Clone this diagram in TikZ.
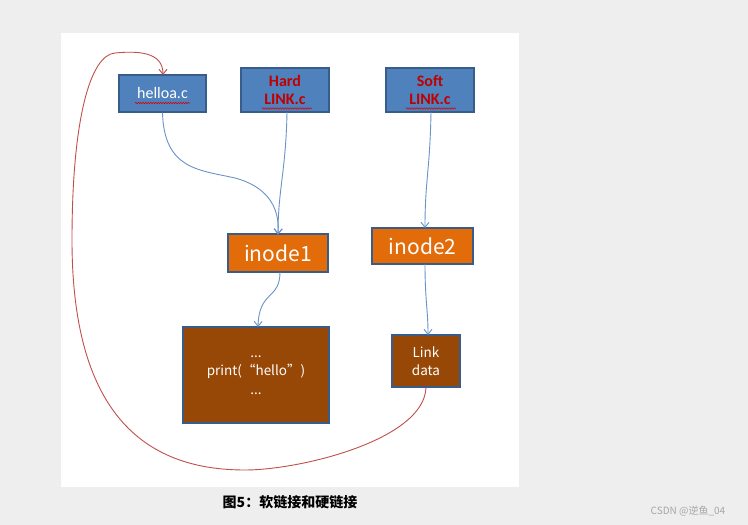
\documentclass[tikz,border=0pt]{standalone}
\usepackage{fontspec}
\setmainfont{Carlito}
\newfontfamily\cjk{Noto Sans CJK SC}
\usetikzlibrary{arrows.meta,decorations.pathmorphing}
\definecolor{bgray}{HTML}{EEEEEE}
\definecolor{bluefill}{HTML}{4F81BD}
\definecolor{blueedge}{HTML}{385D8A}
\definecolor{orangefill}{HTML}{E36C0A}
\definecolor{brownfill}{HTML}{974806}
\definecolor{darkred}{HTML}{C00000}
\definecolor{redline}{HTML}{C0504D}
\definecolor{linkblue}{HTML}{6A93C8}
\tikzset{
  filebox/.style={draw=blueedge,line width=1.2pt,fill=bluefill,inner sep=0pt,align=center},
  inodebox/.style={draw=blueedge,line width=1.2pt,fill=orangefill,text=white,inner sep=0pt,font=\cjk\fontsize{21}{24}\selectfont},
  databox/.style={draw=blueedge,line width=1.2pt,fill=brownfill,text=white,inner sep=0pt,align=center,font=\cjk\fontsize{13.5}{18.5}\selectfont},
  conn/.style={draw=linkblue,line width=0.9pt,-{Straight Barb[length=5pt,width=8pt]}},
  redconn/.style={draw=redline,line width=0.9pt,-{Straight Barb[length=5pt,width=8pt]}},
  squig/.style={draw=red!85!black,line width=0.5pt,decorate,decoration={snake,amplitude=0.8pt,segment length=2.5pt}}
}
\begin{document}
\begin{tikzpicture}[x=1pt,y=-1pt]
\fill[bgray] (0,0) rectangle (748,525);
\useasboundingbox (0,0) rectangle (748,525);
\fill[white] (61,33) rectangle (519,487);
% file boxes
\node[filebox,minimum width=87pt,minimum height=37pt,text=white,font=\fontsize{16}{18}\selectfont] (hello) at (162.5,93.5) {helloa.c};
\node[filebox,minimum width=88pt,minimum height=44pt,text=darkred,font=\bfseries\fontsize{16}{18}\selectfont] (hard) at (285,90) {Hard\\LINK.c};
\node[filebox,minimum width=88pt,minimum height=44pt,text=darkred,font=\bfseries\fontsize{16}{18}\selectfont] (soft) at (430,90) {Soft\\LINK.c};
\draw[squig] (135,103) -- (190,103);
\draw[squig] (262,108.5) -- (312,108.5);
\draw[squig] (406,108.5) -- (456,108.5);
% inodes
\node[inodebox,minimum width=100pt,minimum height=38pt] (inode1) at (278,253) {inode1};
\node[inodebox,minimum width=101pt,minimum height=36pt] (inode2) at (422.5,246) {inode2};
% data
\node[databox,minimum width=146pt,minimum height=96pt] (print) at (256,375) {...\\print(“hello”)\\...};
\node[databox,minimum width=68pt,minimum height=52pt] (link) at (426,361) {Link\\data};
% connectors
\draw[conn] (hello.south) .. controls (164,170) and (200,170) .. (235,178) .. controls (265,186) and (280,205) .. (278,234.5);
\draw[conn] (287,112) .. controls (286,170) and (278,190) .. (278,234.5);
\draw[conn] (431,112) .. controls (430,170) and (425,180) .. (425,228);
\draw[conn] (280,272) .. controls (280,300) and (259,290) .. (258,327);
\draw[conn] (425,264) .. controls (425,300) and (428,310) .. (428,335);
% red soft-link curve
\draw[redconn] (link.south) .. controls (424,440) and (300,470) .. (245,470)
  .. controls (150,470) and (72,420) .. (72,240)
  .. controls (72,120) and (90,55) .. (115,53)
  .. controls (145,50) and (163,55) .. (163,75);
% caption
\node[font=\cjk\bfseries\fontsize{14}{16}\selectfont] (cap) at (290,502) {图5：软链接和硬链接};
\node[font=\cjk\fontsize{10}{12}\selectfont,text=gray!70] (wm) at (688,511) {CSDN @逆鱼\_04};
\end{tikzpicture}
\end{document}
